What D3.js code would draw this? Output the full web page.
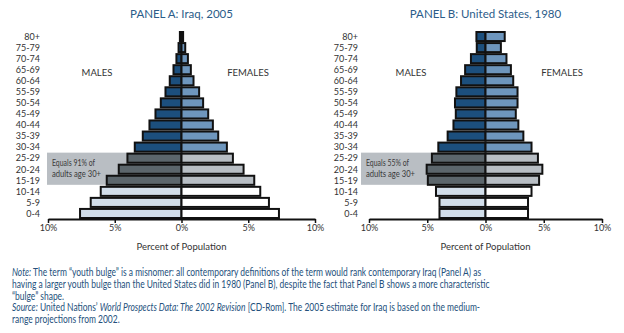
<!DOCTYPE html>
<html>
<head>
<meta charset="utf-8">
<script src="https://cdn.jsdelivr.net/npm/d3@7"></script>
<style>
  body { margin: 0; background: #fff; }
  text { font-family: Lato, "Open Sans", sans-serif; }
</style>
</head>
<body>
<div id="vis"></div>
<script>
const FRAME_WIDTH = 624;
const FRAME_HEIGHT = 333;

// age groups, bottom to top
const ages = ['0-4', '5-9', '10-14', '15-19', '20-24', '25-29', '30-34', '35-39', '40-44',
  '45-49', '50-54', '55-59', '60-64', '65-69', '70-74', '75-79', '80+'];

// percent of population
const iraqMales = [7.6, 6.8, 6.05, 5.6, 4.7, 4.05, 3.5, 2.9, 2.4, 1.95, 1.55, 1.2, 0.88, 0.6, 0.38, 0.22, 0.12];
const iraqFemales = [7.3, 6.55, 5.9, 5.45, 4.65, 3.85, 3.4, 2.75, 2.35, 2.0, 1.62, 1.32, 0.9, 0.7, 0.48, 0.28, 0.12];
const usMales = [3.95, 3.95, 4.25, 4.95, 5.05, 4.6, 4.05, 3.25, 2.75, 2.55, 2.62, 2.5, 2.1, 1.75, 1.25, 0.75, 0.78];
const usFemales = [3.65, 3.65, 3.95, 4.6, 4.88, 4.5, 3.95, 3.25, 2.82, 2.6, 2.75, 2.75, 2.38, 2.18, 1.8, 1.32, 1.65];

const xTicks = [-10, -5, 0, 5, 10];

const panels = [
  {title: 'PANEL A: Iraq, 2005', males: iraqMales, females: iraqFemales, note: ['Equals 91% of', 'adults age 30+'],
   x0: 48, x1: 315, labelX: 40, boxX: 47, malesX: 97, femalesX: 248},
  {title: 'PANEL B: United States, 1980', males: usMales, females: usFemales, note: ['Equals 55% of', 'adults age 30+'],
   x0: 369, x1: 602, labelX: 358, boxX: 361, malesX: 411, femalesX: 562}
];

const COLORS = {
  maleOld: '#1c4f7d', femaleOld: '#6e96bd',
  maleMid: '#5c666c', femaleMid: '#b8bec4',
  maleYoung: '#d2deea', femaleYoung: '#ffffff'
};

function barColor(i, side) {
  if (i >= 6) return side === 'm' ? COLORS.maleOld : COLORS.femaleOld;
  if (i >= 3) return side === 'm' ? COLORS.maleMid : COLORS.femaleMid;
  return side === 'm' ? COLORS.maleYoung : COLORS.femaleYoung;
}

const svg = d3.select('#vis')
  .append('svg')
    .attr('width', FRAME_WIDTH)
    .attr('height', FRAME_HEIGHT);

const AXIS_Y = 219;

const Y_SCALE = d3.scaleBand()
  .domain(ages.slice().reverse())
  .range([31, AXIS_Y])
  .padding(0);

panels.forEach((p) => {
  const X_SCALE = d3.scaleLinear()
    .domain([-10, 10])
    .range([p.x0, p.x1]);

  const cx = X_SCALE(0);
  const g = svg.append('g');

  // title
  g.append('text')
    .attr('x', cx)
    .attr('y', 18)
    .attr('text-anchor', 'middle')
    .attr('font-size', '11.5px')
    .attr('fill', '#2b5c89')
    .text(p.title);

  // grey annotation box behind the youth bars
  g.append('rect')
    .attr('x', p.boxX)
    .attr('y', Y_SCALE('25-29'))
    .attr('width', cx - p.boxX)
    .attr('height', Y_SCALE('15-19') + Y_SCALE.bandwidth() - Y_SCALE('25-29') - 1)
    .attr('fill', '#b9bec3');

  g.selectAll('.note')
    .data(p.note)
    .enter()
    .append('text')
      .attr('x', p.boxX + 5)
      .attr('y', (d, i) => Y_SCALE('25-29') + 13 + i * 11)
      .attr('font-size', '9px')
      .attr('fill', '#3a3a3a')
      .attr('textLength', (d, i) => i === 0 ? 43 : 49)
      .attr('lengthAdjust', 'spacingAndGlyphs')
      .text((d) => d);

  // age labels
  g.selectAll('.age')
    .data(ages)
    .enter()
    .append('text')
      .attr('x', p.labelX)
      .attr('y', (d) => Y_SCALE(d) + Y_SCALE.bandwidth() / 2 + 3.3)
      .attr('text-anchor', 'end')
      .attr('font-size', '9px')
      .attr('fill', '#333')
      .text((d) => d);

  // males
  g.selectAll('.male')
    .data(p.males)
    .enter()
    .append('rect')
      .attr('x', (d) => X_SCALE(-d))
      .attr('y', (d, i) => Y_SCALE(ages[i]) + 1)
      .attr('width', (d) => cx - X_SCALE(-d))
      .attr('height', Y_SCALE.bandwidth() - 2)
      .attr('fill', (d, i) => barColor(i, 'm'))
      .attr('stroke', '#111')
      .attr('stroke-width', 2);

  // females
  g.selectAll('.female')
    .data(p.females)
    .enter()
    .append('rect')
      .attr('x', cx)
      .attr('y', (d, i) => Y_SCALE(ages[i]) + 1)
      .attr('width', (d) => X_SCALE(d) - cx)
      .attr('height', Y_SCALE.bandwidth() - 2)
      .attr('fill', (d, i) => barColor(i, 'f'))
      .attr('stroke', '#111')
      .attr('stroke-width', 2);

  // MALES / FEMALES
  g.append('text')
    .attr('x', p.malesX).attr('y', 76)
    .attr('text-anchor', 'middle')
    .attr('font-size', '9.5px').attr('fill', '#333')
    .text('MALES');
  g.append('text')
    .attr('x', p.femalesX).attr('y', 76)
    .attr('text-anchor', 'middle')
    .attr('font-size', '9.5px').attr('fill', '#333')
    .text('FEMALES');

  // x axis
  const axis = g.append('g')
    .attr('transform', 'translate(0,' + AXIS_Y + ')')
    .call(d3.axisBottom(X_SCALE)
      .tickValues(xTicks)
      .tickSize(4)
      .tickSizeOuter(0)
      .tickFormat((d) => Math.abs(d) + '%'));
  axis.select('.domain').attr('stroke', '#111').attr('stroke-width', 2);
  axis.selectAll('.tick line').attr('stroke', '#111').attr('stroke-width', 1.5);
  axis.selectAll('.tick text')
    .attr('font-size', '9px')
    .attr('fill', '#333')
    .attr('font-family', 'Lato, sans-serif')
    .attr('dy', '0.5em');

  g.append('text')
    .attr('x', cx)
    .attr('y', 250)
    .attr('text-anchor', 'middle')
    .attr('font-size', '9.5px')
    .attr('fill', '#333')
    .text('Percent of Population');
});

// notes under the chart
const noteLines = [
  [{t: 'Note:', i: true}, {t: ' The term \u201cyouth bulge\u201d is a misnomer: all contemporary definitions of the term would rank contemporary Iraq (Panel A) as'}],
  [{t: 'having a larger youth bulge than the United States did in 1980 (Panel B), despite the fact that Panel B shows a more characteristic'}],
  [{t: '\u201cbulge\u201d shape.'}],
  [{t: 'Source:', i: true}, {t: ' United Nations\u2019 '}, {t: 'World Prospects Data: The 2002 Revision', i: true}, {t: ' [CD-Rom]. The 2005 estimate for Iraq is based on the medium-'}],
  [{t: 'range projections from 2002.'}]
];

const noteG = svg.append('g');
const noteTexts = noteLines.map((line, li) => {
  const txt = noteG.append('text')
    .attr('x', 0)
    .attr('y', 276 + li * 11.8)
    .attr('font-size', '10.5px')
    .attr('fill', '#24507c');
  line.forEach((s) => {
    txt.append('tspan')
      .attr('font-style', s.i ? 'italic' : 'normal')
      .text(s.t);
  });
  return txt;
});

// squeeze the note horizontally so the first line spans as in the original
const w0 = noteTexts[0].node().getComputedTextLength();
noteG.attr('transform', 'translate(12,0) scale(' + (470 / w0) + ',1)');
</script>
</body>
</html>
